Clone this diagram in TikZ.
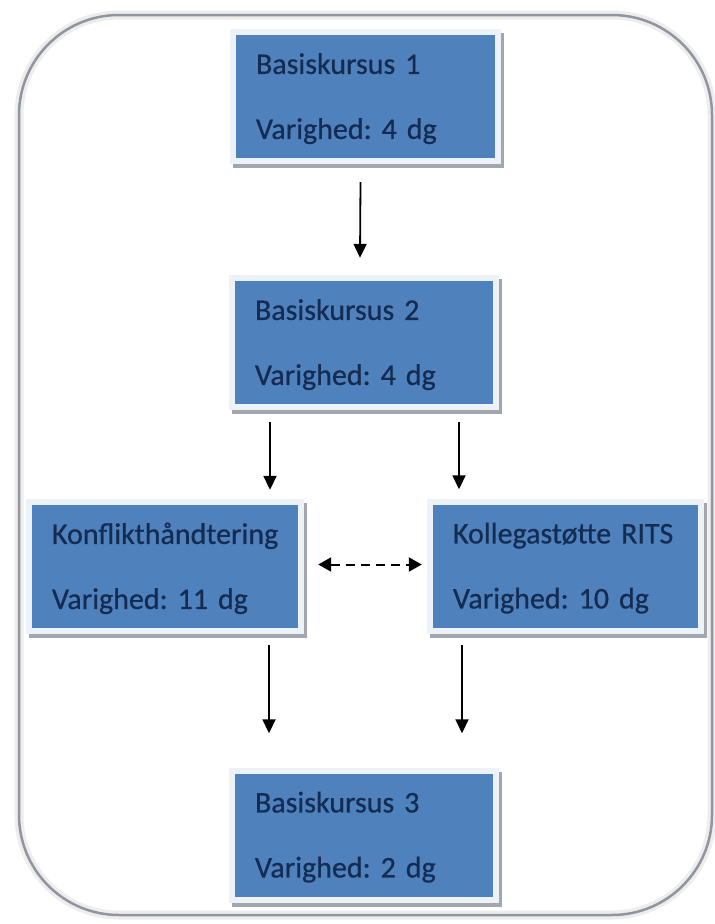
\documentclass[tikz,border=0pt]{standalone}
\usepackage{fontspec}
\setmainfont{Carlito}[FakeBold=0.6]
\usetikzlibrary{arrows.meta,shadows}
\definecolor{boxblue}{HTML}{4F81BD}
\definecolor{boxtext}{HTML}{142B52}
\definecolor{framecol}{HTML}{EDF2F9}
\definecolor{shadowcol}{HTML}{A3A6AD}
\definecolor{outercol}{HTML}{9095A0}
\newcommand{\crsfont}{\fontsize{30pt}{35pt}\selectfont\spaceskip=4.2pt\relax}
\begin{document}
\frenchspacing
\begin{tikzpicture}[x=1pt,y=-1pt,
  outerframe/.style={rectangle, rounded corners=100pt, minimum width=693pt, minimum height=900pt,
    draw=outercol, line width=2.5pt, preaction={draw=black!7, line width=9pt}},
  course/.style={rectangle, fill=framecol, inner xsep=26pt, inner ysep=0pt,
    minimum height=135pt, text width=#1, align=left, text=boxtext,
    font=\crsfont,
    drop shadow={shadow xshift=3pt, shadow yshift=-4pt, fill=shadowcol, opacity=1},
    path picture={\fill[boxblue] ([shift={(6pt,-6pt)}]path picture bounding box.north west)
      rectangle ([shift={(-6pt,6pt)}]path picture bounding box.south east);}},
  arr/.style={-{Triangle[length=14pt,width=13pt]}, line width=1.8pt, black},
  darr/.style={{Triangle[length=13pt,width=14pt]}-{Triangle[length=13pt,width=14pt]}, line width=2pt, black, dash pattern=on 9pt off 6pt}]
\useasboundingbox (0,0) rectangle (715,924);
\fill[white] (0,0) rectangle (715,924);
\node[outerframe] (frame) at (365.5,465) {};

\node[course=219pt] (b1) at (365.5,96.5) {\rule{0pt}{25pt}\mbox{Basiskursus 1}\\[30pt]\mbox{Varighed: 4 dg}};
\node[course=218pt] (b2) at (364,342.5) {\rule{0pt}{25pt}\mbox{Basiskursus 2}\\[30pt]\mbox{Varighed: 4 dg}};
\node[course=226pt] (k) at (165,566.5) {\rule{0pt}{25pt}\mbox{Konflikthåndtering}\\[30pt]\mbox{Varighed: 11 dg}};
\node[course=225pt] (kol) at (565.5,566) {\rule{0pt}{25pt}\mbox{Kollegastøtte RITS}\\[30pt]\mbox{Varighed: 10 dg}};
\node[course=218pt] (b3) at (364,835) {\rule{0pt}{25pt}\mbox{Basiskursus 3}\\[30pt]\mbox{Varighed: 2 dg}};

\draw[arr] ([xshift=-5pt,yshift=-18pt]b1.south) -- ([xshift=-4pt,yshift=17pt]b2.north);

\coordinate (a2l) at ([xshift=-94pt]b2.south);
\coordinate (a2r) at ([xshift=95pt]b2.south);
\draw[arr] ([yshift=-12pt]a2l) -- ([yshift=9pt]a2l |- k.north);
\draw[arr] ([yshift=-12pt]a2r) -- ([yshift=9pt]a2r |- kol.north);

\coordinate (a3l) at ([xshift=-95pt]b3.north);
\coordinate (a3r) at ([xshift=98pt]b3.north);
\draw[arr] ([yshift=-11pt]a3l |- k.south) -- ([yshift=34pt]a3l);
\draw[arr] ([yshift=-11pt]a3r |- kol.south) -- ([yshift=34pt]a3r);

\coordinate (dR) at (k.east -| kol.west);
\draw[darr] ([xshift=14pt,yshift=2pt]k.east) -- ([xshift=-5pt,yshift=2pt]dR);
\end{tikzpicture}
\end{document}
